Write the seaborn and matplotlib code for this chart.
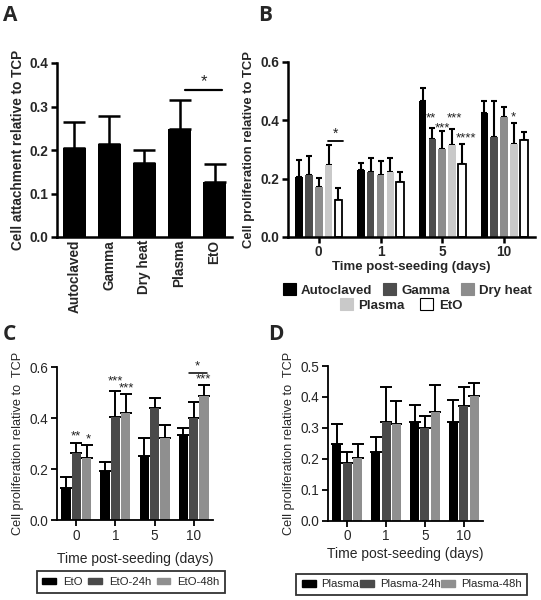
import matplotlib
matplotlib.use("Agg")
import matplotlib.pyplot as plt
from matplotlib.patches import Patch
import numpy as np
import pandas as pd
import seaborn as sns

# ---- data ----
methods = ["Autoclaved", "Gamma", "Dry heat", "Plasma", "EtO"]
attach_mean = [0.204, 0.213, 0.171, 0.248, 0.126]
attach_err = [0.061, 0.065, 0.030, 0.066, 0.041]

days = ["0", "1", "5", "10"]
prolif_mean = {
    "Autoclaved": [0.204, 0.230, 0.466, 0.423],
    "Gamma": [0.213, 0.222, 0.334, 0.341],
    "Dry heat": [0.171, 0.213, 0.300, 0.410],
    "Plasma": [0.248, 0.222, 0.316, 0.318],
    "EtO": [0.126, 0.189, 0.249, 0.333],
}
prolif_err = {
    "Autoclaved": [0.061, 0.025, 0.044, 0.043],
    "Gamma": [0.065, 0.047, 0.039, 0.125],
    "Dry heat": [0.030, 0.048, 0.064, 0.035],
    "Plasma": [0.066, 0.047, 0.055, 0.072],
    "EtO": [0.041, 0.035, 0.070, 0.025],
}

eto_groups = ["EtO", "EtO-24h", "EtO-48h"]
eto_mean = {
    "EtO": [0.126, 0.191, 0.250, 0.335],
    "EtO-24h": [0.265, 0.403, 0.439, 0.399],
    "EtO-48h": [0.243, 0.421, 0.321, 0.488],
}
eto_err = {
    "EtO": [0.044, 0.036, 0.074, 0.028],
    "EtO-24h": [0.039, 0.102, 0.042, 0.063],
    "EtO-48h": [0.051, 0.074, 0.052, 0.042],
}

plasma_groups = ["Plasma", "Plasma-24h", "Plasma-48h"]
plasma_mean = {
    "Plasma": [0.249, 0.223, 0.318, 0.320],
    "Plasma-24h": [0.186, 0.318, 0.301, 0.370],
    "Plasma-48h": [0.203, 0.314, 0.352, 0.403],
}
plasma_err = {
    "Plasma": [0.065, 0.047, 0.055, 0.070],
    "Plasma-24h": [0.036, 0.114, 0.037, 0.062],
    "Plasma-48h": [0.044, 0.072, 0.087, 0.041],
}

b_colors = ["#000000", "#4d4d4d", "#8c8c8c", "#c9c9c9", "#ffffff"]
cd_colors = ["#000000", "#4a4a4a", "#8f8f8f"]

sns.set_theme(style="ticks")
plt.rcParams["font.family"] = ["Liberation Sans", "DejaVu Sans"]


def long_df(groups, means):
    rows = []
    for g in groups:
        for d, v in zip(days, means[g]):
            rows.append({"day": d, "group": g, "value": v})
    return pd.DataFrame(rows)


def add_errbars(ax, groups, errs, lw, cap):
    # one-sided (upward) error bars, centred on each seaborn bar
    for cont, g in zip(ax.containers, groups):
        xs = [p.get_x() + p.get_width() / 2 for p in cont]
        ys = [p.get_height() for p in cont]
        ax.errorbar(xs, ys, yerr=[np.zeros(len(ys)), errs[g]], fmt="none",
                    ecolor="black", elinewidth=lw, capsize=cap, capthick=lw, zorder=1)


def style_axes(ax, lw):
    sns.despine(ax=ax)
    for s in ["left", "bottom"]:
        ax.spines[s].set_linewidth(lw)
        ax.spines[s].set_color("black")
    ax.tick_params(width=lw, length=4, color="black", pad=2)


fig = plt.figure(figsize=(5.41, 6.0), dpi=100)

# ---- A ----
axA = fig.add_axes([0.105, 0.605, 0.324, 0.29])
sns.barplot(x=methods, y=attach_mean, color="black", width=0.66, errorbar=None,
            saturation=1, linewidth=0, ax=axA, zorder=2)
add_errbars(axA, ["A"], {"A": attach_err}, 1.8, 8)
axA.set_ylim(0, 0.4)
axA.set_xlim(-0.5, 4.5)
axA.set_yticks([0, 0.1, 0.2, 0.3, 0.4])
axA.set_ylabel("Cell attachment relative to TCP", fontsize=9.8, fontweight="bold", labelpad=3)
style_axes(axA, 1.8)
axA.tick_params(axis="x", length=0)
plt.setp(axA.get_xticklabels(), rotation=90, fontsize=9.8, fontweight="bold")
plt.setp(axA.get_yticklabels(), fontsize=9.8, fontweight="bold")
axA.plot([3.15, 4.2], [0.338, 0.338], color="black", lw=1.6)
axA.text(3.7, 0.340, "*", ha="center", va="bottom", fontsize=12)

# ---- B ----
axB = fig.add_axes([0.532, 0.605, 0.457, 0.292])
dfB = long_df(methods, prolif_mean)
sns.barplot(data=dfB, x="day", y="value", hue="group", palette=b_colors,
            errorbar=None, width=0.8, gap=0.22, saturation=1, legend=False,
            linewidth=0, ax=axB, zorder=2)
for p in axB.containers[-1]:
    p.set_edgecolor("black")
    p.set_linewidth(1.3)
add_errbars(axB, methods, prolif_err, 1.5, 2.5)
axB.set_ylim(0, 0.6)
axB.set_xlim(-0.5, 3.5)
axB.set_yticks([0, 0.2, 0.4, 0.6])
axB.set_ylabel("Cell proliferation relative to TCP", fontsize=9.4, fontweight="bold")
axB.set_xlabel("Time post-seeding (days)", fontsize=9.5, fontweight="bold", labelpad=1)
style_axes(axB, 1.8)
plt.setp(axB.get_xticklabels() + axB.get_yticklabels(), fontsize=9.8, fontweight="bold")
axB.plot([0.15, 0.39], [0.33, 0.33], color="black", lw=1.3)
axB.text(0.27, 0.328, "*", ha="center", va="bottom", fontsize=10, color="#222222")
for x, y, s in [(1.81, 0.405, "**"), (2.0, 0.372, "***"), (2.19, 0.405, "***"),
                (2.38, 0.336, "****"), (3.15, 0.410, "*")]:
    axB.text(x, y, s, ha="center", va="center", fontsize=9.5, color="#222222")

hB = [Patch(facecolor=c, edgecolor="black" if c == "#ffffff" else c, linewidth=0.8)
      for c in b_colors]
fig.legend(hB[:3], methods[:3], loc="center", bbox_to_anchor=(0.753, 0.517),
           ncol=3, frameon=False, handlelength=1.0, handleheight=1.0,
           handletextpad=0.4, columnspacing=0.8,
           prop={"size": 9.5, "weight": "bold"})
fig.legend(hB[3:], methods[3:], loc="center", bbox_to_anchor=(0.741, 0.492),
           ncol=2, frameon=False, handlelength=1.0, handleheight=1.0,
           handletextpad=0.4, columnspacing=1.2,
           prop={"size": 9.5, "weight": "bold"})

# ---- C ----
axC = fig.add_axes([0.105, 0.133, 0.289, 0.255])
dfC = long_df(eto_groups, eto_mean)
sns.barplot(data=dfC, x="day", y="value", hue="group", palette=cd_colors,
            errorbar=None, width=0.8, gap=0.12, saturation=1, legend=False,
            linewidth=0, ax=axC, zorder=2)
add_errbars(axC, eto_groups, eto_err, 1.4, 4)
axC.set_ylim(0, 0.6)
axC.set_xlim(-0.5, 3.5)
axC.set_yticks([0, 0.2, 0.4, 0.6])
axC.set_ylabel("Cell proliferation relative to  TCP", fontsize=9.2)
axC.set_xlabel("Time post-seeding (days)", fontsize=10, labelpad=7)
style_axes(axC, 1.3)
plt.setp(axC.get_xticklabels() + axC.get_yticklabels(), fontsize=9.8)
for x, y, s in [(0.0, 0.329, "**"), (0.30, 0.316, "*"), (0.99, 0.546, "***"),
                (1.29, 0.516, "***"), (3.25, 0.553, "***")]:
    axC.text(x, y, s, ha="center", va="center", fontsize=9.5, color="#222222")
axC.plot([2.89, 3.34], [0.579, 0.579], color="black", lw=1.1)
axC.text(3.1, 0.578, "*", ha="center", va="bottom", fontsize=9.5, color="#222222")
hC = [Patch(facecolor=c, edgecolor=c) for c in cd_colors]
fig.legend(hC, eto_groups, loc="center", bbox_to_anchor=(0.242, 0.030), ncol=3,
           frameon=True, fancybox=False, edgecolor="black", handlelength=1.2,
           handleheight=0.55, handletextpad=0.6, columnspacing=0.5,
           borderpad=0.5, prop={"size": 8.2}).get_frame().set_linewidth(1.3)

# ---- D ----
axD = fig.add_axes([0.606, 0.132, 0.287, 0.258])
dfD = long_df(plasma_groups, plasma_mean)
sns.barplot(data=dfD, x="day", y="value", hue="group", palette=cd_colors,
            errorbar=None, width=0.8, gap=0.12, saturation=1, legend=False,
            linewidth=0, ax=axD, zorder=2)
add_errbars(axD, plasma_groups, plasma_err, 1.4, 4)
axD.set_ylim(0, 0.5)
axD.set_xlim(-0.5, 3.5)
axD.set_yticks([0, 0.1, 0.2, 0.3, 0.4, 0.5])
axD.set_ylabel("Cell proliferation relative to  TCP", fontsize=9.2)
axD.set_xlabel("Time post-seeding (days)", fontsize=10, labelpad=3)
style_axes(axD, 1.3)
plt.setp(axD.get_xticklabels() + axD.get_yticklabels(), fontsize=9.8)
fig.legend(hC, plasma_groups, loc="center", bbox_to_anchor=(0.761, 0.026), ncol=3,
           frameon=True, fancybox=False, edgecolor="black", handlelength=1.2,
           handleheight=0.55, handletextpad=0.5, columnspacing=0.1,
           borderpad=0.5, prop={"size": 8.2}).get_frame().set_linewidth(1.3)

# panel letters
for x, y, s in [(0.006, 0.992, "A"), (0.477, 0.992, "B"), (0.006, 0.46, "C"), (0.495, 0.46, "D")]:
    fig.text(x, y, s, fontsize=15, fontweight="bold", va="top", family="Open Sans")

fig.savefig("out.png", dpi=100)
